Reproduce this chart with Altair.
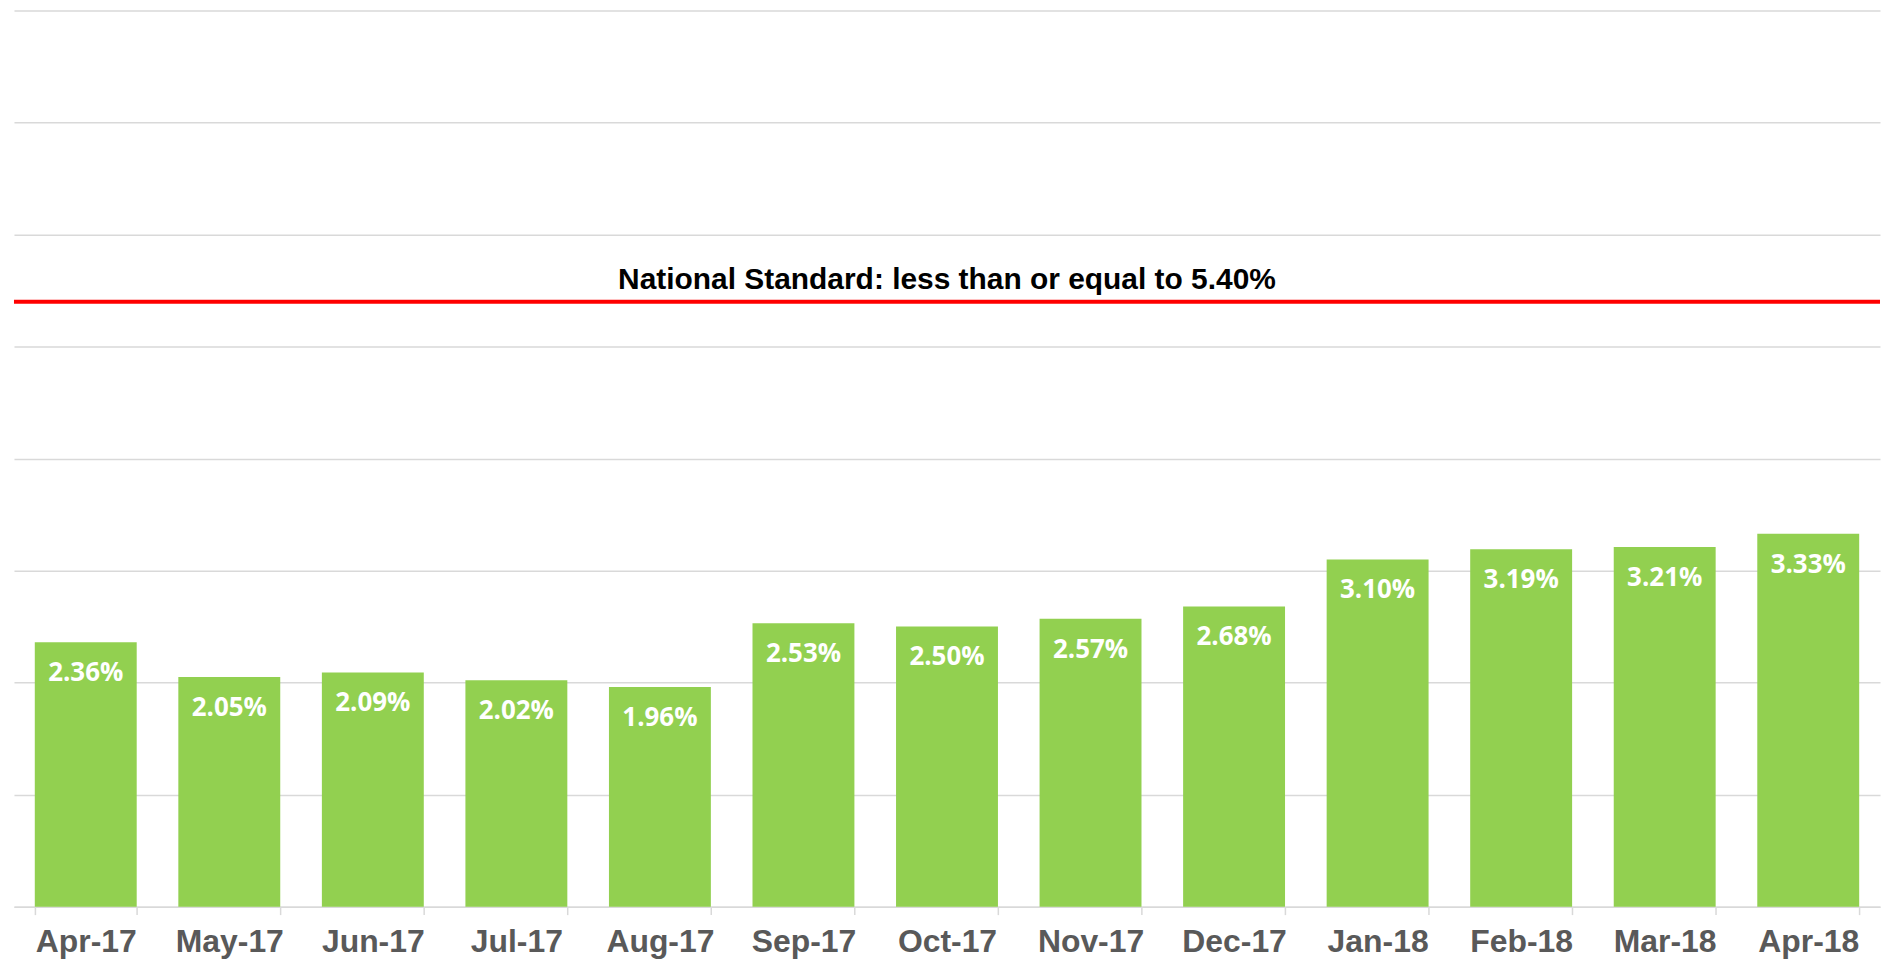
import altair as alt
import pandas as pd

months = ["Apr-17", "May-17", "Jun-17", "Jul-17", "Aug-17", "Sep-17", "Oct-17",
          "Nov-17", "Dec-17", "Jan-18", "Feb-18", "Mar-18", "Apr-18"]
values = [2.36, 2.05, 2.09, 2.02, 1.96, 2.53, 2.50, 2.57, 2.68, 3.10, 3.19, 3.21, 3.33]
standard_value = 5.40
standard_label = "National Standard: less than or equal to 5.40%"
grid_values = [0, 1, 2, 3, 4, 5, 6, 7, 8]

df = pd.DataFrame({"month": months, "value": values})
std_df = pd.DataFrame({"y": [standard_value], "month": ["Oct-17"], "label": [standard_label]})

x = alt.X("month:N", sort=months, title=None,
          scale=alt.Scale(paddingInner=0.29),
          axis=alt.Axis(labelAngle=0, labelFont="Liberation Sans", labelFontWeight="bold",
                        labelFontSize=32, labelColor="#595959", labelPadding=12,
                        tickBand="extent", tickSize=8, tickColor="#d9d9d9",
                        domainColor="#d9d9d9", domainWidth=1.5, tickWidth=1.5, grid=False))
y = alt.Y("value:Q", title=None,
          scale=alt.Scale(domain=[0, 8], nice=False),
          axis=alt.Axis(values=grid_values, labels=False, ticks=False, domain=False,
                        grid=True, gridColor="#d9d9d9", gridWidth=1.5))

bars = alt.Chart(df).mark_bar(color="#92d050").encode(x=x, y=y)

labels = alt.Chart(df).transform_calculate(
    label="format(datum.value, '.2f') + '%'"
).mark_text(color="white", font="Open Sans", fontWeight="bold", fontSize=26,
            baseline="middle", dy=31).encode(
    x=alt.X("month:N", sort=months), y="value:Q", text="label:N")

rule = alt.Chart(std_df).mark_rule(color="#ff0000", strokeWidth=4).encode(y="y:Q")

std_text = alt.Chart(std_df).mark_text(color="black", font="Liberation Sans", fontWeight="bold",
                                       fontSize=30, baseline="middle", dy=-22).encode(
    x=alt.X("month:N", sort=months), y="y:Q", text="label:N")

chart = alt.layer(bars, labels, rule, std_text).properties(
    width=1872, height=899,
    padding={"left": 4, "top": 1, "right": 0, "bottom": 0},
    background="white",
).configure_view(stroke=None)

chart.save("out.html", embed_options={"renderer": "svg", "actions": False})
